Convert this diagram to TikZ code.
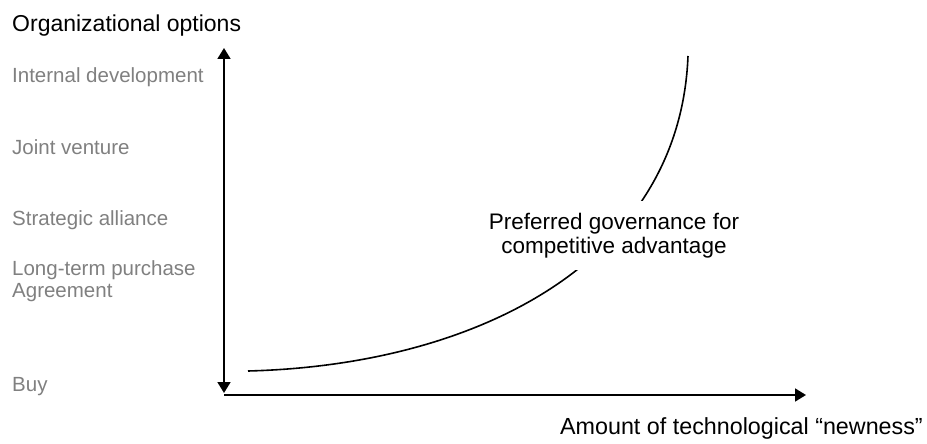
\documentclass[tikz,border=0pt]{standalone}
\usepackage{fontspec}
\setmainfont{Liberation Sans}
\usetikzlibrary{arrows.meta,positioning,calc}
\definecolor{muted}{HTML}{808080}
\begin{document}
\begin{tikzpicture}[x=1pt,y=-1pt,>={Triangle[length=11pt,width=13pt]},
  axis/.style={line width=1.8pt},
  option/.style={anchor=base west,inner sep=0pt,text=muted,font=\fontsize{20.5}{22}\selectfont},
  caption/.style={inner sep=0pt,font=\fontsize{23}{24}\selectfont}]
  \useasboundingbox (0,0) rectangle (927,444);
  % axes
  \coordinate (origin) at (224,395);
  \coordinate (ytop) at (224,48);
  \coordinate (ybot) at (224,393);
  \coordinate (xend) at (806,395);
  \draw[axis,<->] (ybot) -- (ytop);
  \draw[axis,->] (origin) -- (xend);
  \node[caption,anchor=base west] (ylabel) at (12,32) {Organizational options};
  \node[caption,anchor=base east,font=\fontsize{23.3}{24}\selectfont] (xlabel) at (923,434)
       {Amount of technological “newness”};
  % options
  \foreach \n/\y/\t in {internal/82/Internal development,joint/154/Joint venture,
                        alliance/225/Strategic alliance,buy/391/Buy}
    \node[option] (\n) at (12,\y) {\t};
  \node[option,align=left] (purchase) at (12,297) {Long-term purchase\\Agreement};
  % curve
  \coordinate (cstart) at (248,371);
  \coordinate (cend) at (688,56);
  \draw[line width=1.6pt] (cstart) .. controls (480,365) and (680,260) .. (cend);
  \node[caption,fill=white,align=center,anchor=base,inner xsep=6pt,inner ysep=12pt,
        font=\fontsize{22.5}{24}\selectfont] (pref) at (614,253)
       {Preferred governance for\\competitive advantage};
\end{tikzpicture}
\end{document}
